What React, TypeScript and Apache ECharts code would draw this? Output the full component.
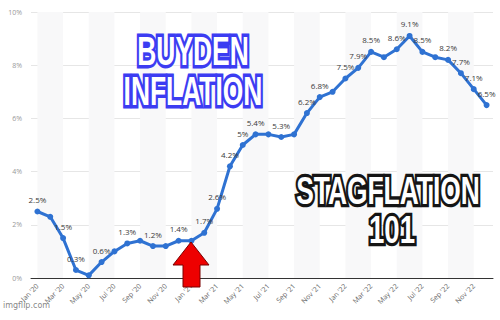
import React, { useEffect, useRef } from 'react';
import * as echarts from 'echarts';

const months = ['Jan', 'Feb', 'Mar', 'Apr', 'May', 'Jun', 'Jul', 'Aug', 'Sep', 'Oct', 'Nov', 'Dec'];
const years = ['20', '21', '22'];
const categories = years.flatMap((y) => months.map((m) => `${m} '${y}`));

const inflation = [
  2.5, 2.3, 1.5, 0.3, 0.1, 0.6, 1.0, 1.3, 1.4, 1.2, 1.2, 1.4,
  1.4, 1.7, 2.6, 4.2, 5.0, 5.4, 5.4, 5.3, 5.4, 6.2, 6.8, 7.0,
  7.5, 7.9, 8.5, 8.3, 8.6, 9.1, 8.5, 8.3, 8.2, 7.7, 7.1, 6.5,
];

const labelledMonths = [0, 2, 3, 5, 7, 9, 11, 13, 14, 15, 16, 17, 19, 21, 22, 24, 25, 26, 28, 29, 30, 32, 33, 34, 35];

const yMin = 0;
const yMax = 10;
const yStep = 2;

const BLUE = '#2f72d2';
const MEME_FONT = 'bold 30px "Liberation Sans", Arial, sans-serif';

function memeText(
  text: string,
  x: number,
  y: number,
  sx: number,
  sy: number,
  outline: string,
  glow: string,
) {
  const common = { type: 'text', x, y, scaleX: sx, scaleY: sy };
  return [
    {
      ...common,
      z: 100,
      style: {
        text,
        font: MEME_FONT,
        fill: outline,
        stroke: outline,
        lineWidth: 5,
        lineJoin: 'round',
        align: 'center',
        verticalAlign: 'middle',
        shadowBlur: 6,
        shadowColor: glow,
      },
    },
    {
      ...common,
      z: 101,
      style: {
        text,
        font: MEME_FONT,
        fill: '#ffffff',
        align: 'center',
        verticalAlign: 'middle',
      },
    },
  ];
}

export default function App() {
  const ref = useRef<HTMLDivElement>(null);

  useEffect(() => {
    if (!ref.current) return;
    const chart = echarts.init(ref.current, null, { renderer: 'svg' });

    const data = inflation.map((v, i) => ({
      value: v,
      label: { show: labelledMonths.includes(i) },
    }));

    chart.setOption({
      animation: false,
      backgroundColor: '#ffffff',
      grid: { left: 31, right: 7, top: 12, bottom: 42, containLabel: false, outerBoundsMode: 'none' },
      xAxis: {
        type: 'category',
        data: categories,
        boundaryGap: true,
        axisLine: { show: true, lineStyle: { color: '#333', width: 1 } },
        axisTick: { show: false },
        axisLabel: {
          interval: 1,
          rotate: 45,
          margin: 7,
          fontSize: 7,
          color: '#666',
          fontFamily: '"Open Sans", "Liberation Sans", sans-serif',
        },
        splitLine: { show: false },
        splitArea: {
          show: true,
          interval: 1,
          alignWithLabel: true,
          areaStyle: { color: ['#f8f8f9', 'rgba(255,255,255,0)'] },
        },
      },
      yAxis: {
        type: 'value',
        min: yMin,
        max: yMax,
        interval: yStep,
        axisLine: { show: false },
        axisTick: { show: false },
        axisLabel: {
          formatter: (v: number) => `${v}%`,
          fontSize: 7,
          color: '#999',
          margin: 9,
          fontFamily: '"Open Sans", "Liberation Sans", sans-serif',
        },
        splitLine: { show: true, lineStyle: { color: '#e6e6e6', width: 1 } },
      },
      series: [
        {
          type: 'line',
          data,
          symbol: 'circle',
          symbolSize: 6,
          showAllSymbol: true,
          lineStyle: { color: BLUE, width: 3 },
          itemStyle: { color: BLUE },
          label: {
            position: 'top',
            distance: 5,
            fontSize: 8,
            color: '#3a3a3a',
            fontFamily: '"Open Sans", "Liberation Sans", sans-serif',
            formatter: (p: any) => `${p.value}%`,
          },
          z: 3,
        },
      ],
      graphic: [
        ...memeText('BUYDEN', 193, 51, 0.88, 1.36, '#3c3cf2', 'rgba(110,110,255,0.95)'),
        ...memeText('INFLATION', 193, 91, 0.88, 1.36, '#3c3cf2', 'rgba(110,110,255,0.95)'),
        ...memeText('STAGFLATION', 388, 190, 0.88, 1.32, '#151515', 'rgba(0,0,0,0.85)'),
        ...memeText('101', 392, 229, 0.92, 1.32, '#151515', 'rgba(0,0,0,0.85)'),
        {
          type: 'polygon',
          z: 100,
          shape: {
            points: [
              [191, 242],
              [209, 265],
              [200, 265],
              [200, 287],
              [183, 287],
              [183, 265],
              [173, 265],
            ],
          },
          style: { fill: '#ee0000', stroke: '#7a0000', lineWidth: 1 },
        },
        {
          type: 'text',
          x: 3,
          y: 305,
          z: 100,
          style: {
            text: 'imgflip.com',
            font: '8px "DejaVu Sans", sans-serif',
            fill: 'rgba(110,110,110,0.85)',
            align: 'left',
            verticalAlign: 'middle',
          },
        },
      ],
    });

    return () => chart.dispose();
  }, []);

  return (
    <div
      ref={ref}
      style={{ position: 'fixed', left: 0, top: 0, width: 500, height: 320 }}
    />
  );
}
